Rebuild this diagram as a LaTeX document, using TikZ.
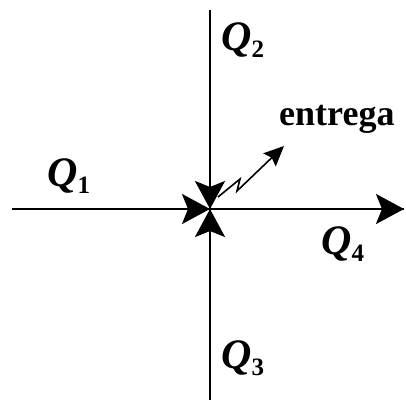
\documentclass[tikz,border=0pt]{standalone}
\usepackage{fontspec}
\setmainfont{Liberation Serif}
\usetikzlibrary{arrows.meta}
\newcommand{\qsub}[1]{Q\raisebox{-7pt}{\fontsize{25}{25}\selectfont\upshape #1}}
\begin{document}
\begin{tikzpicture}[x=1pt,y=-1pt,
  flow/.style={line width=2.6pt,-{Stealth[length=28pt,width=30pt,inset=6pt]}},
  lab/.style={font=\fontsize{42}{42}\selectfont\bfseries\itshape,anchor=base west,inner sep=0pt},
  ent/.style={font=\fontsize{36}{36}\selectfont\bfseries,anchor=base west,inner sep=0pt}]
\useasboundingbox (0,0) rectangle (406,407);
\coordinate (c) at (210,209);
\coordinate (L) at (12,209);
\coordinate (R) at (404,209);
\coordinate (T) at (210,10);
\coordinate (B) at (210,400);
\coordinate (z1) at (218,197);
\coordinate (z2) at (240,179);
\coordinate (z3) at (237,191);
\coordinate (e) at (284,146);
\draw[line width=2.6pt] (L) -- (R);
\draw[line width=2.6pt] (T) -- (B);
\draw[flow] (L) -- (c);
\draw[flow] (T) -- (c);
\draw[flow] (B) -- (c);
\draw[flow] (c) -- (R);
\draw[line width=1.6pt,-{Stealth[length=20pt,width=18pt,inset=3pt]}] (z1) -- (z2) -- (z3) -- (e);
\node[lab] (q1) at (47,186) {\qsub{1}};
\node[lab] (q2) at (221,50) {\qsub{2}};
\node[lab] (q3) at (221,368) {\qsub{3}};
\node[lab] (q4) at (321,254) {\qsub{4}};
\node[ent] (en) at (279,125) {entrega};
\end{tikzpicture}
\end{document}
